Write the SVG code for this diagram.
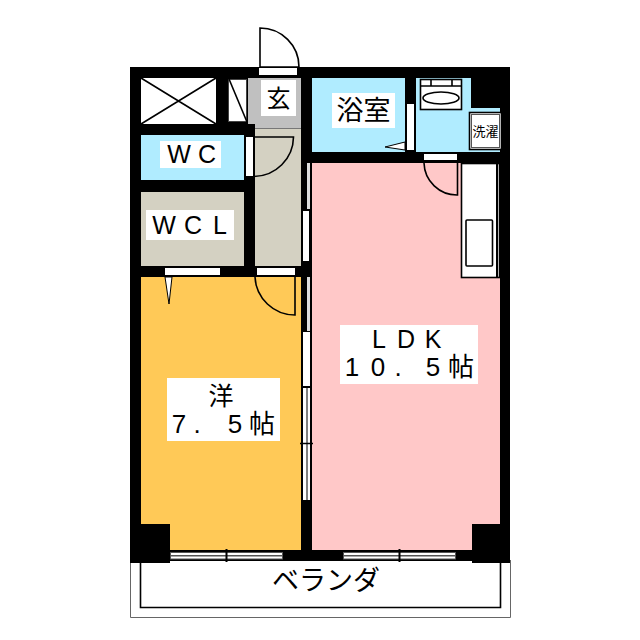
<svg xmlns="http://www.w3.org/2000/svg" width="640" height="640" viewBox="0 0 640 640">
<style>
.k{fill:#000}.w{fill:#fff}.l{fill:none;stroke:#000;stroke-width:1.6}.b{fill:#b0ecff}.g{fill:#d4d1c2}
text{font-family:"Liberation Sans","Noto Sans CJK JP",sans-serif;fill:#000;text-anchor:middle}
.t{font-size:26px}
.c{font-family:"Noto Sans CJK JP",sans-serif}
</style>
<rect width="640" height="640" fill="#fff"/>
<!-- balcony -->
<path d="M130.500 560V617.500H510.500V560" fill="none" stroke="#666" stroke-width="1"/>
<path d="M140.500 560V607.500H500.500V560" fill="none" stroke="#000" stroke-width="1.600"/>
<!-- structure -->
<rect class="k" x="130" y="67" width="380" height="494"/>
<rect x="141" y="277" width="160" height="273" fill="#ffc957"/>
<rect x="312" y="163" width="188" height="387" fill="#ffc8c8"/>
<rect class="k" x="130" y="524" width="40" height="39"/>
<rect class="k" x="472" y="524" width="38" height="39"/>
<!-- closet -->
<rect class="w" x="141" y="78" width="75" height="46"/>
<path class="l" d="M141 78L216 124M216 78L141 124"/>
<rect class="w" x="228.500" y="79.500" width="18" height="42" stroke="#444"/>
<path class="l" d="M229 79L247 122"/>
<!-- entry and hall -->
<rect x="248" y="78" width="53" height="51" fill="#c0c0c0"/>
<rect class="g" x="255" y="129" width="46" height="137"/>
<rect x="255" y="128" width="46" height="1" fill="#777"/>
<rect class="k" x="244" y="124" width="11" height="5"/>
<rect class="w" x="261" y="80" width="35" height="36"/>
<text class="c" x="278.500" y="107" style="font-size:24px">玄</text>
<rect class="w" x="259" y="68" width="38" height="7"/>
<path class="l" d="M260 67V28A39 39 0 0 1 299 67H260"/>
<!-- WC -->
<rect class="b" x="141" y="135" width="103" height="45"/>
<rect class="w" x="160" y="141" width="61" height="27"/>
<text x="179 207" y="163" style="font-size:25px">WC</text>
<rect class="w" x="246" y="137" width="7" height="39"/>
<path class="l" d="M254 176.500A40 40 0 0 0 293.500 137H254"/>
<!-- WCL -->
<rect class="g" x="141" y="192" width="103" height="74"/>
<rect class="w" x="146" y="210" width="88" height="30"/>
<text x="164 193 220" y="234" style="font-size:25px">WCL</text>
<rect class="w" x="165" y="268" width="55" height="7"/>
<rect class="w" x="257" y="268" width="38" height="7"/>
<path d="M165 277H172L169 304Z" fill="#fff" stroke="#000"/>
<path class="l" d="M255 277A40 40 0 0 0 295 315V277"/>
<!-- bath -->
<rect class="b" x="312" y="78" width="93" height="74"/>
<path class="b" d="M416 78H471V108H500V152H416Z"/>
<rect class="k" x="471" y="78" width="39" height="30"/>
<rect class="w" x="332" y="93" width="63" height="35"/>
<text class="c" x="363.500" y="120" style="font-size:27px">浴室</text>
<rect class="w" x="407" y="104" width="7" height="46"/>
<path d="M385 147L405 142V150Z" fill="#fff" stroke="#000"/>
<rect class="w" x="420.500" y="79.500" width="41" height="30" stroke="#000" stroke-width="1.600"/>
<path class="l" d="M421 86H461M431 80V86M452 80V86"/>
<ellipse cx="441" cy="98" rx="18" ry="6" fill="#fff" stroke="#000" stroke-width="1.600"/>
<rect x="469.500" y="112.500" width="32" height="37" fill="#fff" stroke="#000" stroke-width="1.600"/>
<rect x="471.500" y="114.500" width="28" height="33" fill="#fff" stroke="#555"/>
<text class="c" x="485.500" y="136" style="font-size:13px">洗濯</text>
<!-- LDK door and kitchen -->
<rect class="w" x="424" y="154" width="33" height="6"/>
<path class="l" d="M424 163A33 33 0 0 0 457.500 195V163"/>
<rect class="w" x="461.500" y="163.500" width="38" height="114" stroke="#000" stroke-width="1.600"/>
<rect x="496" y="164" width="2" height="113" fill="#000"/>
<rect class="w" x="466" y="220" width="26.500" height="46" rx="1" stroke="#000" stroke-width="1.600"/>
<!-- side windows -->
<rect x="307" y="163" width="3" height="46" fill="#ddd"/>
<rect class="w" x="303" y="211" width="6" height="50"/>
<rect x="307" y="277" width="3" height="54" fill="#ddd"/>
<rect class="w" x="303" y="332" width="7" height="54"/>
<rect class="w" x="303" y="388" width="3.500" height="112"/>
<rect class="w" x="307.500" y="388" width="2.500" height="112"/>
<path stroke="#000" stroke-width="1.500" d="M300 443.500H313"/>
<!-- south windows -->
<g fill="#fff" stroke="#555">
<rect x="170.500" y="552.500" width="112" height="3"/>
<rect x="170.500" y="556" width="112" height="3"/>
<rect x="343.500" y="552.500" width="112" height="3"/>
<rect x="343.500" y="556" width="112" height="3"/>
</g>
<path stroke="#000" stroke-width="2" d="M226.500 549V562M399.500 549V562"/>
<!-- labels -->
<rect class="w" x="340" y="325" width="138" height="59"/>
<text class="t" x="379 406 433" y="348" style="font-size:25px">LDK</text>
<text class="t" x="352 378 398 433" y="376">10.5</text>
<text class="c" x="461" y="376" style="font-size:26px">帖</text>
<rect class="w" x="167" y="378" width="113" height="63"/>
<text class="c" x="221" y="405" style="font-size:25px">洋</text>
<text class="t" x="179 197 235" y="433">7.5</text>
<text class="c" x="262" y="433" style="font-size:26px">帖</text>
<text class="c" x="326" y="590" style="font-size:27px">ベランダ</text>
</svg>
